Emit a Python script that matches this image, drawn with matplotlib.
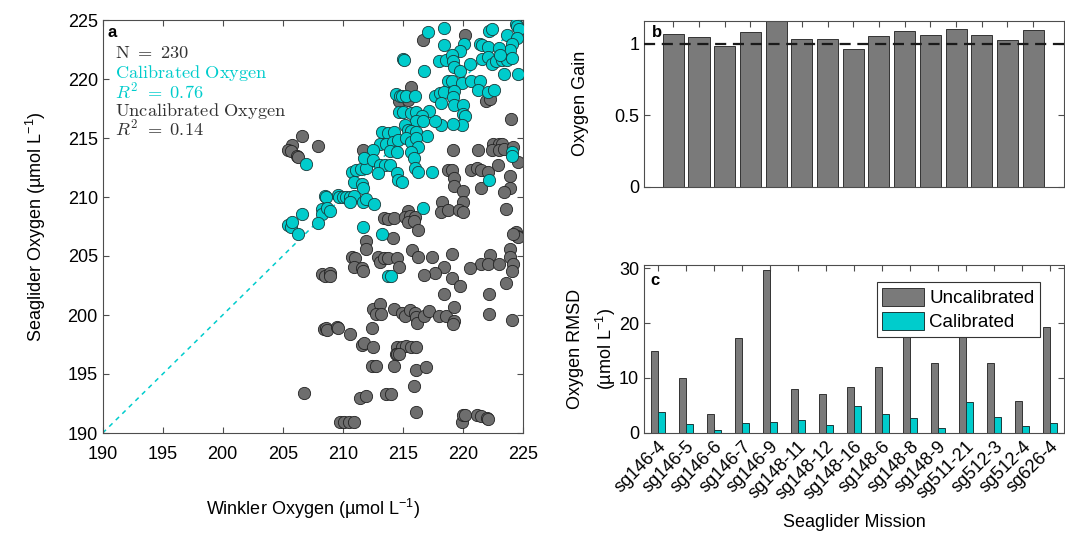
import matplotlib
matplotlib.use("Agg")
import matplotlib.pyplot as plt
import numpy as np

plt.rcParams['font.family'] = ['Liberation Sans', 'DejaVu Sans']
plt.rcParams['mathtext.fontset'] = 'custom'
plt.rcParams['mathtext.rm'] = 'Liberation Sans'
plt.rcParams['mathtext.it'] = 'Liberation Sans:italic'
plt.rcParams['mathtext.bf'] = 'Liberation Sans:bold'

# ---------------- data ----------------
cal_x = [215.0, 214.4, 214.8, 214.7, 213.3, 213.8, 214.3, 213.1, 213.6, 214.2, 214.6, 212.5, 213.9, 214.5,
         217.1, 218.4, 218.4, 220.1, 219.8, 221.4, 221.6, 222.1, 222.2, 222.4, 223.7, 224.4, 224.5, 224.7, 224.5, 224.1, 223.9, 223.0,
         215.1, 216.8, 218.0, 218.6, 219.1, 219.2, 219.3, 219.8, 220.6, 221.6, 222.1, 222.4, 222.8, 223.3, 223.7, 224.1, 223.1, 223.4, 224.6,
         218.8, 219.1, 219.9, 220.7, 221.4, 221.3, 222.1, 222.6,
         217.7, 218.1, 218.4, 219.3, 219.2, 218.2, 219.3, 220.0, 220.0, 220.2, 219.9, 219.2, 218.2, 217.7, 217.2,
         214.9, 215.3, 216.0, 215.0, 215.7, 216.1, 216.6, 216.1, 216.7, 215.2, 215.4, 215.7, 216.1, 217.0, 215.3, 215.7, 216.1, 216.3, 215.7, 224.1,
         206.9, 210.8, 211.1, 211.5, 211.9, 211.8, 212.5, 213.1, 213.5, 213.9, 212.9, 214.5, 214.6, 210.9, 211.6, 211.7,
         208.5, 208.6, 209.6, 209.7, 210.0, 210.3, 210.6, 210.9, 210.6, 211.7, 211.9, 212.6,
         208.3, 208.3, 208.7, 208.9, 206.6, 205.4, 205.7, 205.8, 206.3, 207.9, 211.7, 213.3, 213.8, 214.0,
         215.9, 216.0, 216.3, 217.4, 214.9, 222.2, 224.1, 216.7]
cal_y = [221.7, 218.7, 218.6, 217.2, 215.5, 215.4, 215.5, 214.5, 214.5, 214.7, 214.8, 214.0, 213.9, 213.8,
         224.0, 224.3, 222.9, 223.0, 222.4, 223.0, 222.9, 222.7, 224.1, 224.2, 223.7, 224.7, 224.5, 224.2, 223.5, 223.0, 222.5, 222.6,
         221.6, 220.7, 221.5, 221.6, 222.0, 221.5, 221.0, 220.7, 221.3, 221.7, 221.9, 221.3, 221.5, 221.6, 221.6, 221.8, 222.0, 220.4, 220.4,
         219.8, 219.8, 219.7, 219.8, 219.8, 219.1, 218.9, 219.1,
         218.6, 218.8, 218.9, 219.0, 218.5, 218.0, 217.8, 217.8, 217.0, 216.9, 216.1, 216.2, 216.1, 216.4, 217.3,
         218.6, 218.6, 218.6, 217.2, 217.1, 217.2, 216.9, 216.4, 216.4, 216.1, 215.7, 215.6, 215.5, 215.2, 215.0, 214.7, 215.0, 214.2, 213.8, 213.8,
         212.8, 212.1, 212.3, 212.4, 212.5, 213.3, 213.1, 212.7, 212.7, 212.7, 212.0, 212.0, 211.4, 211.3, 211.1, 210.8,
         210.1, 210.0, 210.2, 210.0, 210.0, 210.0, 210.0, 210.1, 209.6, 209.6, 209.8, 209.4,
         209.0, 208.6, 209.1, 208.8, 208.6, 207.6, 207.5, 207.9, 206.9, 207.8, 207.5, 206.9, 203.3, 203.3,
         213.3, 212.5, 212.1, 212.1, 211.3, 211.4, 213.5, 209.1]

unc_x = [206.6, 207.9, 205.8, 205.4, 205.7, 206.2, 211.7, 214.7, 215.4,
         216.7, 220.2, 215.7, 221.9, 222.3, 224.0, 219.2, 221.3, 222.5, 223.0, 223.3, 222.4, 223.0, 223.4, 224.2,
         206.3, 213.4, 213.8, 214.3, 214.2, 211.9, 211.9, 210.8, 211.0, 210.9, 211.6, 211.7, 212.9, 213.1, 213.4, 213.8, 214.5, 214.7,
         208.3, 208.5, 208.9, 208.9,
         218.8, 219.1, 219.3, 219.3, 220.0, 220.7, 221.2, 221.5, 222.1, 222.9, 223.9, 224.6, 223.9, 223.4, 221.5,
         218.3, 220.0, 218.2, 218.8, 219.7, 220.0, 223.6,
         215.4, 215.2, 215.6, 216.0, 215.4, 215.9, 216.3,
         224.4, 224.5, 224.6, 224.2,
         215.8, 216.3, 217.4, 219.1, 222.3, 223.9, 223.9, 224.2, 224.1, 221.5, 222.1, 223.0, 220.6, 218.4, 217.7, 216.8,
         219.1, 219.8, 223.6, 222.2, 218.4,
         212.5, 213.1, 212.8, 213.2, 214.3, 214.9, 215.2, 215.6, 216.0, 216.1, 216.2, 216.8, 217.2, 218.0, 218.6, 219.3, 219.3, 219.2,
         222.2, 224.1,
         208.4, 208.6, 208.7, 209.5, 209.6, 210.6, 212.4, 211.6, 211.8, 212.5, 214.5, 214.9, 215.3, 215.7, 216.1,
         214.4, 214.5, 214.7, 212.4, 212.8, 214.3, 216.1, 216.9, 215.9, 206.8, 211.4, 211.9, 213.6, 214.0, 216.1,
         209.8, 210.1, 210.5, 210.9, 219.9, 220.0, 220.2, 221.2, 221.5, 222.0, 222.1]
unc_y = [215.2, 214.3, 214.4, 214.0, 213.9, 213.5, 214.0, 218.1, 218.2,
         223.3, 223.7, 219.3, 218.1, 218.3, 216.6, 214.0, 214.0, 214.5, 214.5, 214.5, 214.0, 214.0, 214.1, 214.2,
         213.4, 208.2, 208.1, 208.2, 206.5, 206.3, 205.6, 204.9, 204.8, 204.1, 204.0, 203.7, 204.9, 204.5, 204.8, 204.8, 204.8, 204.1,
         203.5, 203.3, 203.6, 203.3,
         212.3, 212.3, 211.6, 210.9, 210.5, 212.3, 212.5, 212.3, 212.1, 212.7, 211.8, 213.0, 210.8, 210.4, 210.8,
         209.6, 209.6, 208.7, 208.9, 208.9, 208.7, 209.0,
         208.8, 208.3, 208.4, 208.3, 207.9, 208.0, 207.2,
         207.0, 206.7, 206.6, 206.9,
         205.5, 204.9, 204.9, 205.2, 205.1, 205.6, 204.9, 204.3, 203.7, 204.3, 204.3, 204.3, 204.0, 204.1, 203.6, 203.4,
         203.1, 202.5, 202.7, 201.8, 201.8,
         200.5, 200.9, 200.1, 200.1, 200.5, 200.2, 199.9, 200.4, 200.2, 199.8, 199.3, 199.9, 200.3, 199.9, 199.9, 200.7, 199.5, 199.2,
         200.1, 199.6,
         198.8, 198.9, 198.7, 199.0, 198.9, 198.4, 198.9, 197.5, 197.6, 197.3, 197.3, 197.3, 197.4, 197.3, 197.3,
         196.7, 196.7, 196.7, 195.7, 195.7, 195.7, 195.3, 195.6, 194.0, 193.4, 193.0, 193.1, 193.3, 193.3, 191.8,
         190.9, 190.9, 190.9, 190.9, 190.9, 191.5, 191.5, 191.5, 191.4, 191.3, 191.2]

missions = ['sg146-4', 'sg146-5', 'sg146-6', 'sg146-7', 'sg146-9', 'sg148-11', 'sg148-12', 'sg148-16',
            'sg148-6', 'sg148-8', 'sg148-9', 'sg511-21', 'sg512-3', 'sg512-4', 'sg626-4']
gain = [1.070, 1.047, 0.984, 1.082, 1.17, 1.033, 1.033, 0.967, 1.056, 1.091, 1.063, 1.105, 1.063, 1.026, 1.098]
rmsd_unc = [14.9, 10.0, 3.4, 17.3, 29.6, 8.0, 7.1, 8.3, 11.9, 19.5, 12.7, 21.0, 12.7, 5.7, 19.3]
rmsd_cal = [3.8, 1.5, 0.5, 1.7, 1.9, 2.3, 1.4, 4.8, 3.4, 2.6, 0.8, 5.6, 2.9, 1.2, 1.7]

# ---------------- styling ----------------
CYAN = (0.0, 0.8, 0.8)
GRAY = '#6e6e6e'
BARGRAY = '#7a7a7a'
SPINE = '#4d4d4d'
FS = 13

W, H = 1065, 535
fig = plt.figure(figsize=(W / 100, H / 100), dpi=100)


def ax_px(l, t, r, b):
    return fig.add_axes([l / W, 1 - b / H, (r - l) / W, (b - t) / H])


def style(ax):
    for s in ax.spines.values():
        s.set_color(SPINE)
        s.set_linewidth(0.8)
    ax.tick_params(direction='in', top=True, right=True, labelsize=FS,
                   color=SPINE, length=4, width=0.8)


# ---- panel a ----
axa = ax_px(102.7, 20, 522.7, 433)
style(axa)
axa.tick_params(axis='x', pad=9.5)
axa.plot([190, 225], [190, 225], ls=(0, (3, 3)), color=CYAN, lw=1.1, zorder=1)
axa.scatter(unc_x, unc_y, s=78, c=GRAY, edgecolors='#222222', linewidths=0.6, zorder=2)
axa.scatter(cal_x, cal_y, s=78, c=[CYAN], edgecolors='#1a3a3a', linewidths=0.6, zorder=3)
axa.set_xlim(190, 225)
axa.set_ylim(190, 225)
axa.set_xticks(np.arange(190, 226, 5))
axa.set_yticks(np.arange(190, 226, 5))
axa.set_xlabel('Winkler Oxygen (µmol L$^{-1}$)', fontsize=FS, labelpad=24)
axa.set_ylabel('Seaglider Oxygen (µmol L$^{-1}$)', fontsize=FS, labelpad=14)
axa.text(0.012, 0.988, 'a', transform=axa.transAxes, fontsize=12, fontweight='bold', va='top', ha='left')
tx = 0.029
ann_fs = 13.2
axa.text(tx, 0.94, r'$\mathrm{N}\ =\ 230$', transform=axa.transAxes, fontsize=ann_fs,
         va='top', color='#333333', math_fontfamily='cm')
axa.text(tx, 0.895, r'$\mathrm{Calibrated\ Oxygen}$', transform=axa.transAxes, fontsize=ann_fs,
         va='top', color=CYAN, math_fontfamily='cm')
axa.text(tx, 0.85, r'$R^2\ =\ 0.76$', transform=axa.transAxes, fontsize=ann_fs,
         va='top', color=CYAN, math_fontfamily='cm')
axa.text(tx, 0.805, r'$\mathrm{Uncalibrated\ Oxygen}$', transform=axa.transAxes, fontsize=ann_fs,
         va='top', color='#333333', math_fontfamily='cm')
axa.text(tx, 0.76, r'$R^2\ =\ 0.14$', transform=axa.transAxes, fontsize=ann_fs,
         va='top', color='#333333', math_fontfamily='cm')

# ---- panel b ----
axb = ax_px(644, 20.7, 1064, 186.7)
style(axb)
pos_b = np.arange(1, len(missions) + 1)
axb.bar(pos_b, gain, width=0.82, color=BARGRAY, edgecolor='#333333', linewidth=0.7, zorder=2)
axb.axhline(1.0, ls=(0, (5, 3)), color='#1a1a1a', lw=1.6, zorder=3)
axb.set_xlim(-0.14, 16.2)
axb.set_ylim(0, 1.163)
axb.set_xticks(pos_b)
axb.set_xticklabels([])
axb.set_yticks([0, 0.5, 1])
axb.set_yticklabels(['0', '0.5', '1'])
axb.set_ylabel('Oxygen Gain', fontsize=FS, labelpad=18)
axb.text(0.02, 0.975, 'b', transform=axb.transAxes, fontsize=12, fontweight='bold', va='top', ha='left', zorder=5)

# ---- panel c ----
axc = ax_px(644, 265, 1064, 432.7)
style(axc)
pos_c = np.arange(1, len(missions) + 1)
bw = 0.24
axc.bar(pos_c - 0.125, rmsd_unc, width=bw, color=BARGRAY, edgecolor='#333333', linewidth=0.7,
        label='Uncalibrated', zorder=2)
axc.bar(pos_c + 0.125, rmsd_cal, width=bw, color=CYAN, edgecolor='#1a3a3a', linewidth=0.7,
        label='Calibrated', zorder=2)
axc.set_xlim(0.5, 15.5)
axc.set_ylim(0, 30.6)
axc.set_yticks([0, 10, 20, 30])
axc.set_xticks(pos_c)
axc.set_xticklabels(missions, rotation=45, ha='right', rotation_mode='anchor', fontsize=FS)
axc.set_ylabel('Oxygen RMSD\n(µmol L$^{-1}$)', fontsize=FS, labelpad=1, linespacing=1.5)
axc.set_xlabel('Seaglider Mission', fontsize=FS, labelpad=8)
axc.text(0.015, 0.955, 'c', transform=axc.transAxes, fontsize=12, fontweight='bold', va='top', ha='left')
leg = axc.legend(loc='upper right', bbox_to_anchor=(0.943, 0.899), borderaxespad=0, fontsize=13.5,
                 frameon=True, fancybox=False, edgecolor='#333333', framealpha=1,
                 handlelength=2.2, handleheight=1.1, handletextpad=0.3, borderpad=0.3, labelspacing=0.25)
leg.get_frame().set_linewidth(0.8)
leg.set_zorder(5)

fig.savefig('out.png', dpi=100)
